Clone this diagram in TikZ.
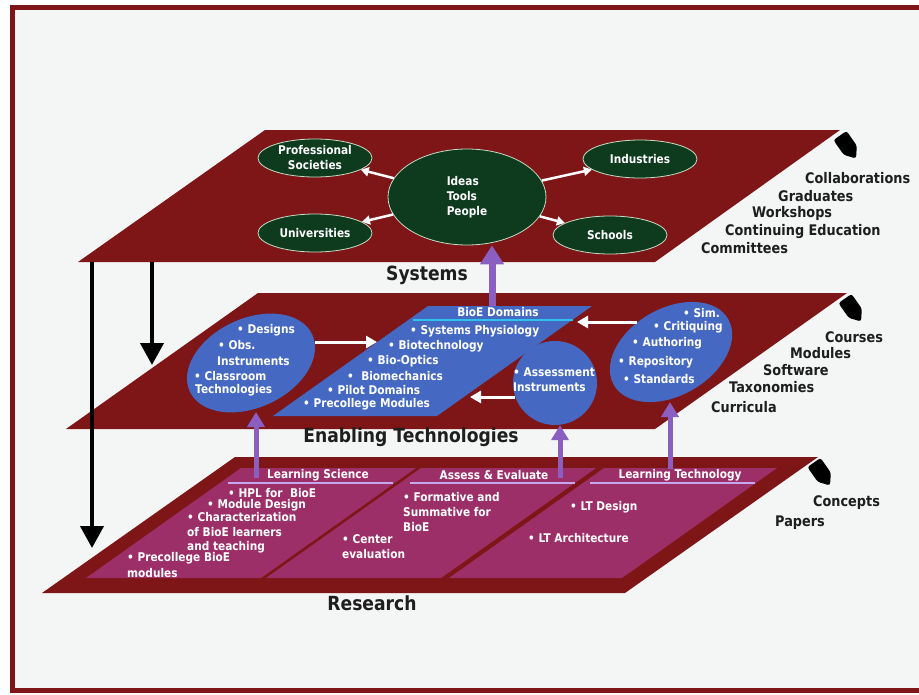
\documentclass[tikz,border=0pt]{standalone}
\usepackage{fontspec}
\setmainfont{DejaVu Sans}[FakeStretch=0.88]
\usetikzlibrary{shapes.geometric,arrows.meta,calc}

\definecolor{planered}{HTML}{7E1517}
\definecolor{panelpink}{HTML}{9C2F68}
\definecolor{bluefill}{HTML}{4569C2}
\definecolor{greenfill}{HTML}{0E3A1E}
\definecolor{greenedge}{HTML}{C4DCC4}
\definecolor{arrowpurple}{HTML}{8B5EC2}
\definecolor{lavender}{HTML}{C7A8EC}
\definecolor{cyanline}{HTML}{2EC2EC}
\definecolor{paper}{HTML}{F4F5F5}
\definecolor{ink}{HTML}{1E1E1E}

\tikzset{
  wtxt/.style={text=white, font=\bfseries\fontsize{12}{15}\selectfont, inner sep=0pt, anchor=west},
  htxt/.style={text=white, font=\bfseries\fontsize{12}{14}\selectfont, inner sep=0pt},
  rtxt/.style={text=ink, font=\bfseries\fontsize{14.6}{17}\selectfont, inner sep=0pt, anchor=west},
  layerlbl/.style={text=ink, font=\bfseries\fontsize{19.5}{22}\selectfont, inner sep=0pt},
  gell/.style={ellipse, fill=greenfill, draw=greenedge, line width=0.8pt, text=white,
    font=\bfseries\fontsize{12}{15}\selectfont, align=center, inner sep=0pt,
    minimum width=114pt, minimum height=38pt},
  bell/.style={ellipse, fill=bluefill, draw=none, inner sep=0pt},
  warrowtop/.style={draw=white, line width=2.5pt, -{Triangle[length=8pt,width=9pt]}},
  warrow/.style={draw=white, line width=3pt, -{Triangle[length=11pt,width=12pt]}},
  parrow/.style={draw=arrowpurple, line width=5pt, -{Triangle[length=15pt,width=17pt]}},
  parrowbig/.style={draw=arrowpurple, line width=7pt, -{Triangle[length=19pt,width=23pt]}},
  barrow/.style={draw=black, line width=4pt, -{Triangle[length=22pt,width=23pt]}},
  tagmark/.pic={\fill[black, rounded corners=2.5pt] (-14,-8) -- (4,-8) -- (14,0) -- (4,8) -- (-14,8) -- cycle;}
}

\begin{document}
\begin{tikzpicture}[x=1pt,y=-1pt]
\useasboundingbox (0,0) rectangle (919,694);

% page and frame
\fill[white] (0,0) rectangle (919,694);
\fill[paper] (12,7) rectangle (935,691);
\draw[planered, line width=5pt] (12.5,7.5) rectangle (940,690.5);

% the three layers
\fill[planered] (265,130) -- (840,130) -- (655,262) -- (78,262) -- cycle;
\fill[planered] (258,293) -- (847,293) -- (655,429) -- (66,429) -- cycle;
\fill[planered] (235,457) -- (818,457) -- (625,593) -- (42,593) -- cycle;

% research panels
\fill[panelpink] (241,468) -- (416,468) -- (261,578) -- (86,578) -- cycle;
\fill[panelpink] (421,468) -- (596,468) -- (441,578) -- (266,578) -- cycle;
\fill[panelpink] (604,468) -- (777,468) -- (622,578) -- (449,578) -- cycle;
\draw[lavender, line width=1.8pt] (228,483) -- (393,483);
\draw[lavender, line width=1.8pt] (410,483) -- (575,483);
\draw[lavender, line width=1.8pt] (590,483) -- (755,483);

% BioE domains panel
\fill[bluefill] (428,306) -- (592,306) -- (437,416) -- (273,416) -- cycle;
\draw[cyanline, line width=2pt] (413,320) -- (573,320);

% corner markers
\pic[rotate=-55] at (848,147) {tagmark};
\pic[rotate=-55] at (853,310) {tagmark};
\pic[rotate=-55] at (822,474) {tagmark};

% systems layer
\node[gell, minimum width=158pt, minimum height=96pt, align=left] (ideas) at (467,197) {Ideas\\Tools\\People};
\node[gell] (prof) at (315,158) {Professional\\Societies};
\node[gell] (univ) at (315,233) {Universities};
\node[gell] (ind) at (640,159) {Industries};
\node[gell] (sch) at (610,235) {Schools};
\draw[warrowtop] (ideas) -- (prof);
\draw[warrowtop] (ideas) -- (univ);
\draw[warrowtop] (ideas) -- (ind);
\draw[warrowtop] (ideas) -- (sch);

\node[layerlbl] (syslbl) at (427,275) {Systems};
\node[rtxt] (r1) at (805,178) {Collaborations};
\node[rtxt] (r2) at (778,196) {Graduates};
\node[rtxt] (r3) at (752,213) {Workshops};
\node[rtxt] (r4) at (725,232) {Continuing Education};
\node[rtxt] (r5) at (701,248) {Committees};

% enabling technologies layer
\node[bell, minimum width=135pt, minimum height=89pt, rotate=25] (leftell) at (251,363) {};
\node[bell, minimum width=132pt, minimum height=87pt, rotate=30] (rightell) at (671,352) {};
\node[bell, circle, minimum size=84pt] (assess) at (555,383) {};

\node[wtxt] (d1) at (237,330) {• Designs};
\node[wtxt] (d2) at (218,345) {• Obs.};
\node[wtxt] (d3) at (217,361) {Instruments};
\node[wtxt] (d4) at (194,376) {• Classroom};
\node[wtxt] (d5) at (195,390) {Technologies};

\node[htxt] (domhead) at (498,312) {BioE Domains};
\node[wtxt] (b1) at (410,331) {• Systems Physiology};
\node[wtxt] (b2) at (388,346) {• Biotechnology};
\node[wtxt] (b3) at (367,361) {• Bio-Optics};
\node[wtxt] (b4) at (347,376) {•\ \ Biomechanics};
\node[wtxt] (b5) at (327,390) {• Pilot Domains};
\node[wtxt] (b6) at (303,404) {• Precollege Modules};

\node[wtxt] (a1) at (513,372) {• Assessment};
\node[wtxt] (a2) at (513,387) {Instruments};

\node[wtxt] (s1) at (683,313) {• Sim.};
\node[wtxt] (s2) at (653,327) {• Critiquing};
\node[wtxt] (s3) at (632,343) {• Authoring};
\node[wtxt] (s4) at (618,362) {• Repository};
\node[wtxt] (s5) at (623,379) {• Standards};

% arrows into the BioE domains panel
\coordinate (domL) at (377,342);
\coordinate (domR) at (577,322);
\coordinate (domA) at (470,397);
\coordinate (domTop) at (492,306);
\coordinate (leftOut) at ($(leftell.center)+(64,-21)$);
\coordinate (rightOut) at ($(rightell.center)+(-34,-30)$);
\coordinate (assessOut) at ($(assess.center)+(-40,14)$);
\draw[warrow] (leftOut) -- (leftOut -| domL);
\draw[warrow] (rightOut) -- (rightOut -| domR);
\draw[warrow] (assessOut) -- (assessOut -| domA);

\node[layerlbl] (etlbl) at (411,437) {Enabling Technologies};
\node[rtxt] (m1) at (825,337) {Courses};
\node[rtxt] (m2) at (790,353) {Modules};
\node[rtxt] (m3) at (763,370) {Software};
\node[rtxt] (m4) at (729,387) {Taxonomies};
\node[rtxt] (m5) at (711,407) {Curricula};

% research layer
\node[htxt] (lshead) at (318,475) {Learning Science};
\node[htxt] (aehead) at (494,475) {Assess \& Evaluate};
\node[htxt] (lthead) at (680,475) {Learning Technology};

\node[wtxt] (l1) at (228,493) {• HPL for\ \ BioE};
\node[wtxt] (l2) at (207,505) {• Module Design};
\node[wtxt] (l3) at (187,517) {• Characterization};
\node[wtxt] (l4) at (187,532) {of BioE learners};
\node[wtxt] (l5) at (187,547) {and teaching};
\node[wtxt] (l6) at (127,558) {• Precollege BioE};
\node[wtxt] (l7) at (127,573) {modules};

\node[wtxt] (e1) at (403,497) {• Formative and};
\node[wtxt] (e2) at (403,512) {Summative for};
\node[wtxt] (e3) at (403,527) {BioE};
\node[wtxt] (e4) at (342,539) {• Center};
\node[wtxt] (e5) at (342,554) {evaluation};

\node[wtxt] (t1) at (570,507) {• LT Design};
\node[wtxt] (t2) at (528,538) {• LT Architecture};

\node[layerlbl] (reslbl) at (372,603) {Research};
\node[rtxt] (c1) at (813,503) {Concepts};
\node[rtxt] (c2) at (775,523) {Papers};

% upward links between layers
\coordinate (lsTail) at (256,478);
\coordinate (aeTail) at (560,478);
\coordinate (ltTail) at (670,469);
\draw[parrow] (lsTail) -- ($(leftell.center)+(5,49)$);
\draw[parrow] (aeTail) -- (aeTail |- assess.south);
\draw[parrow] (ltTail) -- ($(rightell.center)+(-1,50)$);
\draw[parrowbig] (domTop) -- (domTop |- ideas.south);

% downward flow from the systems layer
\coordinate (sysA) at (92,262);
\coordinate (sysB) at (152,262);
\coordinate (resTip) at (92,548);
\coordinate (etTip) at (152,365);
\draw[barrow] (sysA) -- (resTip);
\draw[barrow] (sysB) -- (etTip);
\end{tikzpicture}
\end{document}
